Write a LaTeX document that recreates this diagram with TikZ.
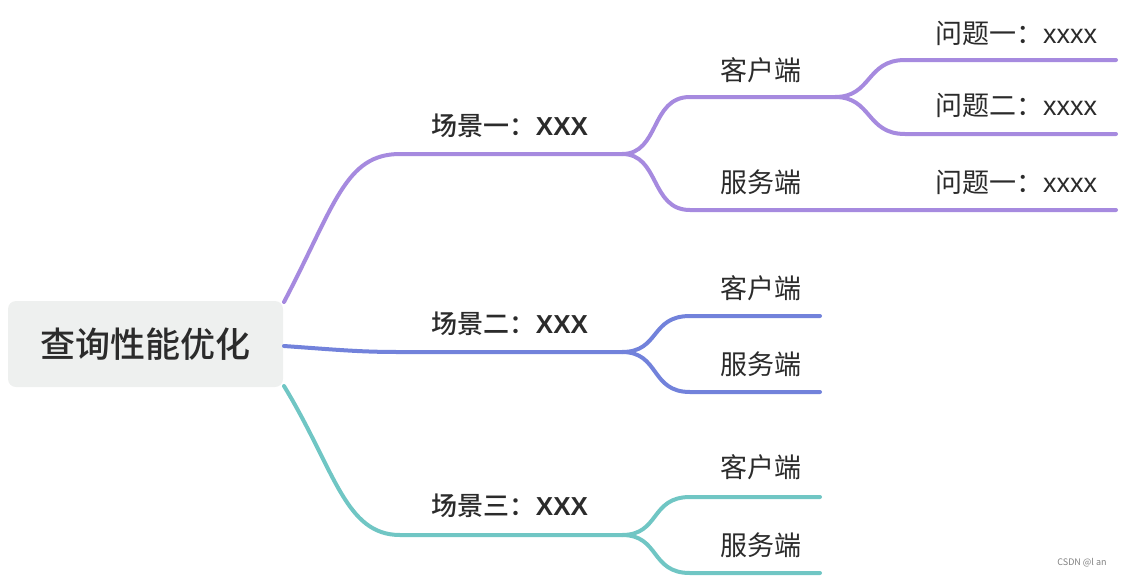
\documentclass[tikz,border=0pt]{standalone}
\usepackage{fontspec}
\setmainfont{Noto Sans CJK SC}[BoldFont={Noto Sans CJK SC Medium}]
\newfontfamily\lat{Liberation Sans}
\definecolor{cpurple}{HTML}{A68ADF}
\definecolor{cblue}{HTML}{7282DB}
\definecolor{cteal}{HTML}{70C6C4}
\definecolor{rootfill}{HTML}{EEF0EF}
\definecolor{txt}{HTML}{2B2B2B}
\tikzset{
  br/.style={line width=4pt, line cap=round},
  lvl1/.style={font=\fontsize{26}{30}\selectfont\bfseries, text=txt, inner sep=0pt},
  lvl2/.style={font=\fontsize{27}{30}\selectfont, text=txt, inner sep=0pt},
}
\begin{document}
\begin{tikzpicture}[x=1pt,y=-1pt]
\useasboundingbox (0,0) rectangle (1124,579);
% root
\node[fill=rootfill, rounded corners=8pt, minimum width=275pt, minimum height=86pt, inner sep=0pt,
  font=\fontsize{35}{38}\selectfont\bfseries, text=txt] (root) at (145.5,344) {查询性能优化};

% coordinates
\coordinate (r1) at (284,302);
\coordinate (r2) at (284,346);
\coordinate (r3) at (284,386);
\coordinate (s1a) at (400,154); \coordinate (s1b) at (622,154);
\coordinate (s2b) at (622,352);
\coordinate (s3a) at (400,535); \coordinate (s3b) at (622,535);

% level-1 labels
\node[lvl1] (l1) at (510,126) {场景一：{\lat XXX}};
\node[lvl1] (l2) at (510,324) {场景二：{\lat XXX}};
\node[lvl1] (l3) at (510,506) {场景三：{\lat XXX}};

% purple branch
\draw[br, cpurple] (r1) .. controls (335,205) and (345,154) .. (s1a) -- (s1b);
\coordinate (c1a) at (690,97); \coordinate (c1b) at (835,97);
\coordinate (f1a) at (690,210); \coordinate (f1b) at (1116,210);
\draw[br, cpurple] (s1b) .. controls (660,154) and (650,97) .. (c1a) -- (c1b);
\draw[br, cpurple] (s1b) .. controls (660,154) and (650,210) .. (f1a) -- (f1b);
\coordinate (q1a) at (905,60); \coordinate (q1b) at (1116,60);
\coordinate (q2a) at (905,134); \coordinate (q2b) at (1116,134);
\draw[br, cpurple] (c1b) .. controls (872,97) and (866,60) .. (q1a) -- (q1b);
\draw[br, cpurple] (c1b) .. controls (872,97) and (866,134) .. (q2a) -- (q2b);
\node[lvl2] (k1) at (761,70) {客户端};
\node[lvl2] (v1) at (761,182) {服务端};
\node[lvl2] (p1) at (1016,33) {问题一：{\lat xxxx}};
\node[lvl2] (p2) at (1016,105) {问题二：{\lat xxxx}};
\node[lvl2] (p3) at (1016,182) {问题一：{\lat xxxx}};

% blue branch
\draw[br, cblue] (r2) .. controls (340,350) and (360,352) .. (400,352) -- (s2b);
\coordinate (c2a) at (690,316); \coordinate (c2b) at (820,316);
\coordinate (f2a) at (690,392); \coordinate (f2b) at (820,392);
\draw[br, cblue] (s2b) .. controls (660,352) and (650,316) .. (c2a) -- (c2b);
\draw[br, cblue] (s2b) .. controls (660,352) and (650,392) .. (f2a) -- (f2b);
\node[lvl2] (k2) at (761,288) {客户端};
\node[lvl2] (v2) at (761,364) {服务端};

% teal branch
\draw[br, cteal] (r3) .. controls (335,470) and (345,535) .. (s3a) -- (s3b);
\coordinate (c3a) at (690,497); \coordinate (c3b) at (820,497);
\coordinate (f3a) at (690,573); \coordinate (f3b) at (820,573);
\draw[br, cteal] (s3b) .. controls (660,535) and (650,497) .. (c3a) -- (c3b);
\draw[br, cteal] (s3b) .. controls (660,535) and (650,573) .. (f3a) -- (f3b);
\node[lvl2] (k3) at (761,467) {客户端};
\node[lvl2] (v3) at (761,545) {服务端};

% watermark
\node[font=\fontsize{9}{10}\selectfont, text=gray, inner sep=0pt] (wm) at (1082,563) {CSDN @l an};
\end{tikzpicture}
\end{document}
